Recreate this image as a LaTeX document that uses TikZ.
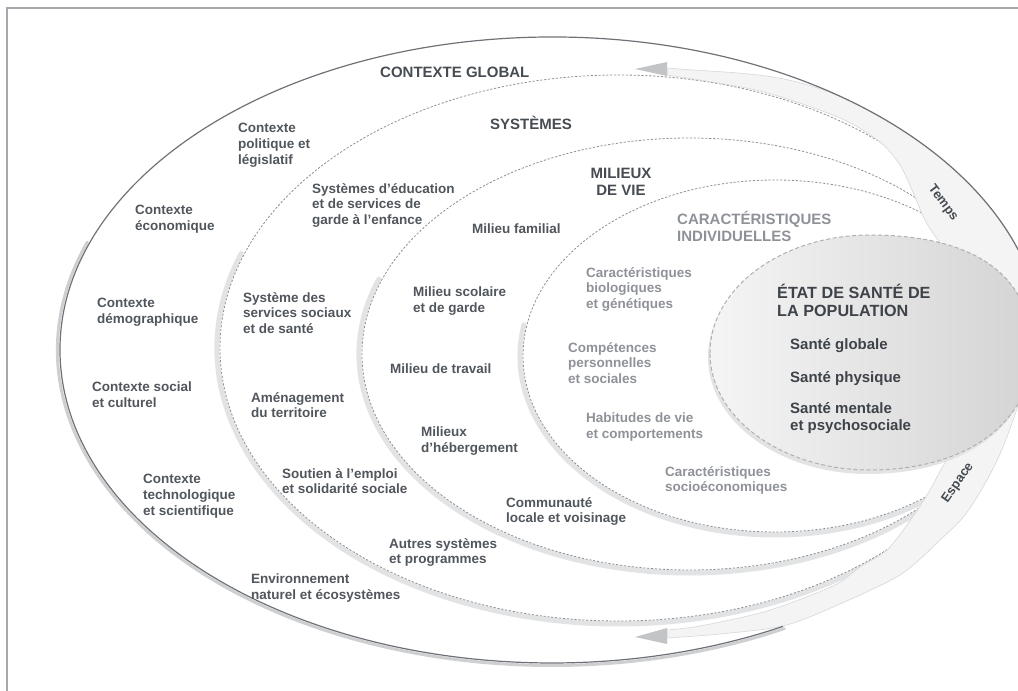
\documentclass[tikz,border=0pt]{standalone}
\usepackage{fontspec}
\setmainfont{Liberation Sans}
\usepackage{xcolor}
\usepackage{tikz}
\usetikzlibrary{calc}

\definecolor{framegray}{HTML}{A5A8AC}
\definecolor{linegray}{HTML}{6E7277}
\definecolor{dashgray}{HTML}{8E9094}
\definecolor{rimgray}{HTML}{E2E3E4}
\definecolor{rimdark}{HTML}{CDCFD1}
\definecolor{bandfill}{HTML}{F4F4F4}
\definecolor{bandedge}{HTML}{D6D7D8}
\definecolor{tipgray}{HTML}{C2C4C6}
\definecolor{txtdark}{HTML}{50565C}
\definecolor{txtlight}{HTML}{8E9298}
\definecolor{ttldark}{HTML}{464C52}
\definecolor{txtdeep}{HTML}{3E4349}

\newcommand{\coreshape}{(710,338) .. controls (710,403) and (782,456) .. (870,456)
    .. controls (975,456) and (1032,415) .. (1032,340)
    .. controls (1032,269) and (967,221) .. (870,221)
    .. controls (782,221) and (710,273) .. (710,338) -- cycle}

\begin{document}
\begin{tikzpicture}[x=1pt, y=1pt,
    ring/.style={draw=dashgray, line width=0.8pt, dash pattern=on 2.2pt off 1.7pt},
    rim/.style={draw=rimgray, line width=5pt, line cap=round},
    band/.style={fill=bandfill, draw=bandedge, line width=0.6pt},
    tip/.style={fill=tipgray, draw=none},
    item/.style={anchor=north west, inner sep=0pt, align=left, text=txtdark,
                 font=\bfseries\fontsize{13.5}{15.7}\selectfont},
    itemlight/.style={item, text=txtlight},
    heading/.style={anchor=north west, inner sep=0pt, align=left, text=ttldark,
                    font=\bfseries\fontsize{15}{17}\selectfont},
    health/.style={item, text=txtdeep, font=\bfseries\fontsize{15}{17}\selectfont},
    flow/.style={inner sep=0pt, text=ttldark, font=\bfseries\fontsize{13}{15}\selectfont}]

\useasboundingbox (0,0) rectangle (1018,691);

% frame
\draw[framegray, line width=2.4pt] (7,-10) -- (7,683) -- (1030,683);

% rims on the lower left of the rings
\draw[rim, draw=rimdark, line width=3pt] (552,341) ++(160:494.5 and 315.5) arc[start angle=160, end angle=298, x radius=494.5, y radius=315.5];
\draw[rim] (618.5,343) ++(160:401.5 and 276) arc[start angle=160, end angle=310, x radius=401.5, y radius=276];
\draw[rim] (689.5,337) ++(160:330.5 and 219) arc[start angle=160, end angle=318, x radius=330.5, y radius=219];
\draw[rim] (775,335) ++(170:255 and 179) arc[start angle=170, end angle=320, x radius=255, y radius=179];

% dashed rings
\draw[ring] (618.5,343) ellipse [x radius=398.5, y radius=273];
\draw[ring] (689.5,337) ellipse [x radius=327.5, y radius=216];
\draw[ring] (775,335) ellipse [x radius=252, y radius=176];

% Temps band
\path[band] (667,623) to[out=-5, in=155] (850,590)
    arc[start angle=52.7, end angle=-5, x radius=492, y radius=313]
    -- plot[smooth] coordinates {(1042,314) (1010,371) (980,411) (955,433) (938,451) (925,471) (912,501) (900,526) (880,549) (840,573) (760,600) (667,616)} -- cycle;
\fill[tip] (635,622) -- (667,629) -- (667,615) -- cycle;

% Espace band
\path[band] plot[smooth] coordinates {(667,53) (720,57) (783,65) (833,84) (900,116) (940,151) (965,176) (987,211) (1003,244) (1020,291) (1025,311)}
    -- plot[smooth] coordinates {(1000,311) (970,259) (945,228) (930,201) (912,173) (887,141) (860,124) (833,105) (767,80) (700,65) (667,61)} -- cycle;
\fill[tip] (635,54) -- (667,63) -- (667,47) -- cycle;

% outer ring
\draw[linegray, line width=1.2pt] (552,341) ++(5:492 and 313) arc[start angle=5, end angle=298, x radius=492, y radius=313];

% health core
\fill[rimgray, shift={(-2,-4)}] \coreshape;
\shade[left color=gray!8, right color=gray!34] \coreshape;
\draw[draw=gray!62, line width=1pt, dash pattern=on 4pt off 2.5pt] \coreshape;

% headings
\node[heading] (glob) at (380,624) {CONTEXTE GLOBAL};
\node[heading] (sys)  at (490,575) {SYSTÈMES};
\node[heading, anchor=north, align=center] (mil) at (621,523) {MILIEUX\\DE VIE};
\node[heading, text=txtlight] (car) at (677,480) {CARACTÉRISTIQUES\\INDIVIDUELLES};
\node[heading, text=txtdeep, font=\bfseries\fontsize{16.2}{17.5}\selectfont] (etat) at (777,407) {ÉTAT DE SANTÉ DE\\LA POPULATION};

% contexte global
\node[item] (pol)  at (238,568) {Contexte\\politique et\\législatif};
\node[item] (eco)  at (135,486) {Contexte\\économique};
\node[item] (demo) at (97,393)  {Contexte\\démographique};
\node[item] (soc)  at (92,309)  {Contexte social\\et culturel};
\node[item] (tech) at (143,217) {Contexte\\technologique\\et scientifique};
\node[item] (env)  at (251,117) {Environnement\\naturel et écosystèmes};

% systemes
\node[item] (edu)    at (312,508) {Systèmes d’éducation\\et de services de\\garde à l’enfance};
\node[item] (sss)    at (243,399) {Système des\\services sociaux\\et de santé};
\node[item] (amen)   at (251,299) {Aménagement\\du territoire};
\node[item] (emploi) at (282,223) {Soutien à l’emploi\\et solidarité sociale};
\node[item] (autres) at (389,153) {Autres systèmes\\et programmes};

% milieux de vie
\node[item] (fam)  at (472,467) {Milieu familial};
\node[item] (scol) at (413,404) {Milieu scolaire\\et de garde};
\node[item] (trav) at (390,327) {Milieu de travail};
\node[item] (heb)  at (421,264) {Milieux\\d’hébergement};
\node[item] (comm) at (506,194) {Communauté\\locale et voisinage};

% caracteristiques individuelles
\node[itemlight] (bio)   at (586,424) {Caractéristiques\\biologiques\\et génétiques};
\node[itemlight] (comp)  at (568,349) {Compétences\\personnelles\\et sociales};
\node[itemlight] (hab)   at (586,278) {Habitudes de vie\\et comportements};
\node[itemlight] (socio) at (665,225) {Caractéristiques\\socioéconomiques};

% etat de sante
\node[health] (glo) at (790,353) {Santé globale};
\node[health] (phy) at (790,320) {Santé physique};
\node[health] (men) at (790,289) {Santé mentale\\et psychosociale};

% time and space
\node[flow, rotate=-53] (temps)  at (943,488) {Temps};
\node[flow, rotate=55]  (espace) at (958,208) {Espace};
\end{tikzpicture}
\end{document}
